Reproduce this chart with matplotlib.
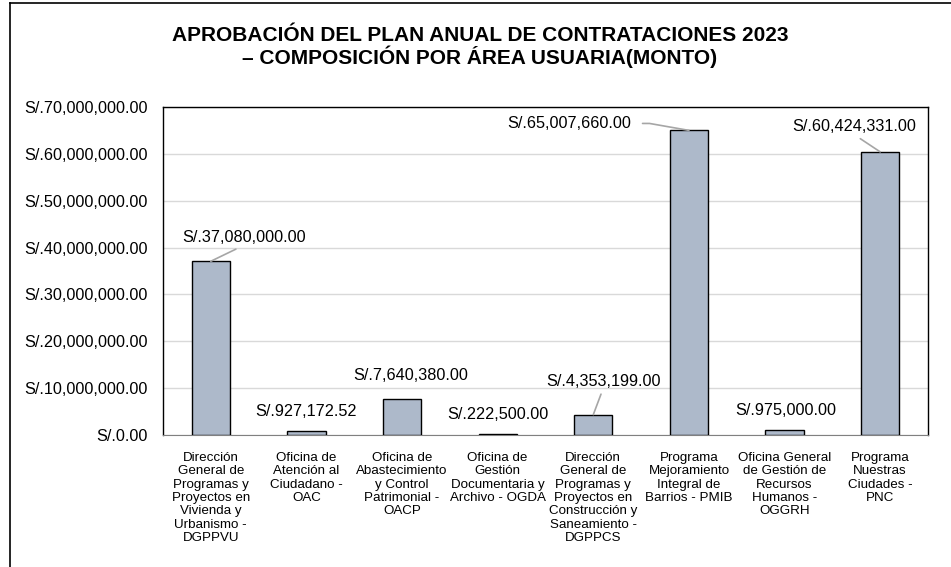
import matplotlib.pyplot as plt
import numpy as np

plt.rcParams['font.family'] = ['Liberation Sans', 'DejaVu Sans']

categorias = [
    "Dirección\nGeneral de\nProgramas y\nProyectos en\nVivienda y\nUrbanismo -\nDGPPVU",
    "Oficina de\nAtención al\nCiudadano -\nOAC",
    "Oficina de\nAbastecimiento\ny Control\nPatrimonial -\nOACP",
    "Oficina de\nGestión\nDocumentaria y\nArchivo - OGDA",
    "Dirección\nGeneral de\nProgramas y\nProyectos en\nConstrucción y\nSaneamiento -\nDGPPCS",
    "Programa\nMejoramiento\nIntegral de\nBarrios - PMIB",
    "Oficina General\nde Gestión de\nRecursos\nHumanos -\nOGGRH",
    "Programa\nNuestras\nCiudades -\nPNC",
]
montos = [37080000.00, 927172.52, 7640380.00, 222500.00, 4353199.00,
          65007660.00, 975000.00, 60424331.00]
yticks = np.arange(0, 70000001, 10000000)

# label offsets from bar top (points) and whether a leader line is drawn
offsets = [(24, 17), (0, 14), (6, 17), (0, 14), (7, 24), (-86, 5), (1, 14), (-19, 18)]
leader = [True, False, False, False, True, True, False, True]


def soles(v):
    return "S/." + f"{v:,.2f}"


fig = plt.figure(figsize=(9.51, 5.67), dpi=100)
ax = fig.add_axes([163 / 951, 1 - 435 / 567, 765 / 951, 328 / 567])

x = np.arange(len(montos))
ax.bar(x, montos, width=0.4, color='#ADB9CA', edgecolor='black', linewidth=1.0, zorder=3)

ax.set_xlim(-0.5, len(montos) - 0.5)
ax.set_ylim(0, 70000000)
ax.set_yticks(yticks)
ax.set_yticklabels([soles(v) for v in yticks], fontsize=11.7)
ax.tick_params(axis='y', length=0, pad=11)
ax.set_xticks(x)
ax.set_xticklabels(categorias, fontsize=9.6, linespacing=1.16, va='top')
ax.tick_params(axis='x', length=0, pad=12)
ax.grid(axis='y', color='#D9D9D9', linewidth=1.0, zorder=0)

for s in ['left', 'top', 'right']:
    ax.spines[s].set_color('black')
    ax.spines[s].set_linewidth(1.0)
ax.spines['bottom'].set_color('#808080')

for i, v in enumerate(montos):
    dx, dy = offsets[i]
    if leader[i]:
        if dx < -50:
            props = dict(arrowstyle='-', color='#A6A6A6', lw=1.2, relpos=(1, 0.5),
                         shrinkA=6, shrinkB=0,
                         connectionstyle="angle,angleA=0,angleB=170,rad=0")
        else:
            props = dict(arrowstyle='-', color='#A6A6A6', lw=1.2, relpos=(0.5, 0),
                         shrinkA=2, shrinkB=0)
    else:
        props = None
    ax.annotate(soles(v), xy=(i, v), xytext=(dx, dy), textcoords='offset points',
                ha='center', va='center', fontsize=11.7, arrowprops=props, zorder=4)

fig.text(480 / 951, 1 - 47 / 567,
         "APROBACIÓN DEL PLAN ANUAL DE CONTRATACIONES 2023\n– COMPOSICIÓN POR ÁREA USUARIA(MONTO)",
         ha='center', va='center', fontsize=15, fontweight='bold', linespacing=1.0)

# outer chart border
fig.add_artist(plt.Line2D([10 / 951, 10 / 951], [0, 1 - 3 / 567], color='black', lw=1.2))
fig.add_artist(plt.Line2D([10 / 951, 1], [1 - 3 / 567, 1 - 3 / 567], color='black', lw=1.2))

fig.savefig('out.png', dpi=100)
